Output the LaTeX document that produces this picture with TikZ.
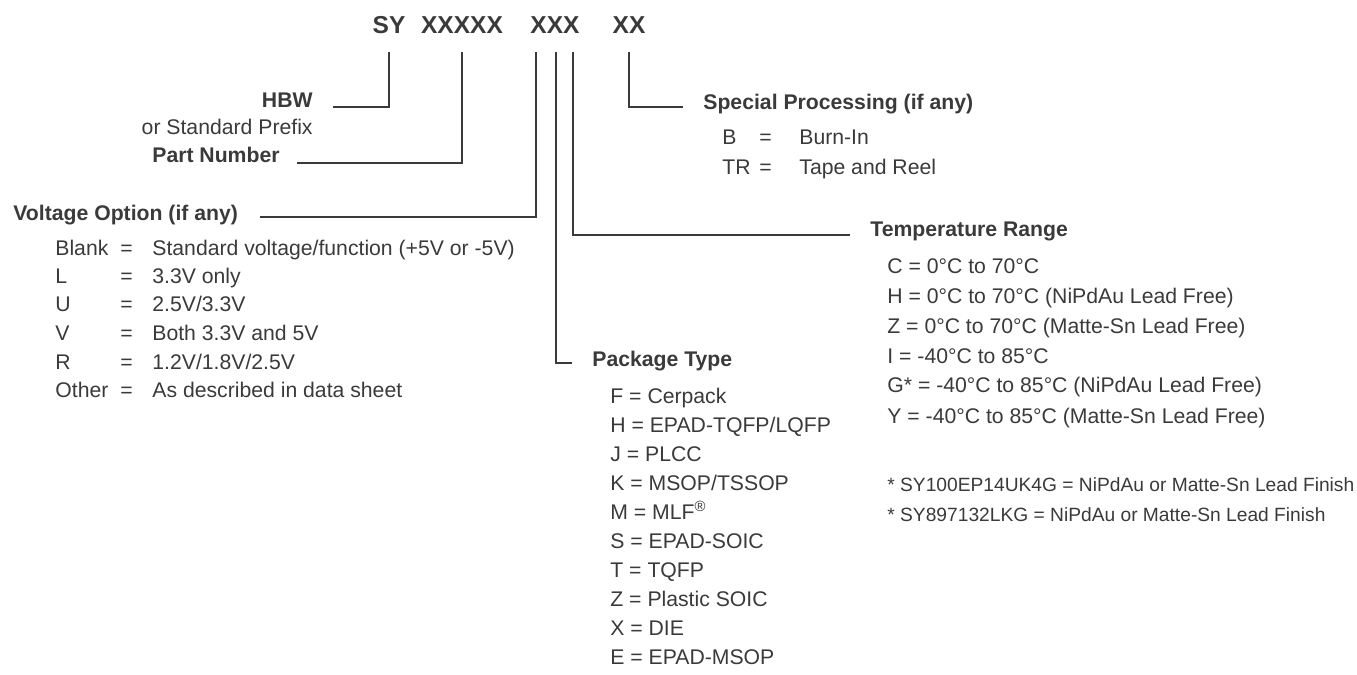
\documentclass[tikz,border=0pt]{standalone}
\usepackage{fontspec}
\setmainfont{Liberation Sans}
\definecolor{ink}{HTML}{3A3A3A}
\tikzset{
  txt/.style={inner sep=0pt, text=ink, anchor=base west, font=\fontsize{10.6}{12}\selectfont},
  hdr/.style={txt, font=\fontsize{10.6}{12}\selectfont\bfseries},
  note/.style={txt, font=\fontsize{9.6}{11}\selectfont},
  ttl/.style={inner sep=0pt, text=ink, anchor=base, font=\fontsize{12.25}{14}\selectfont\bfseries},
  lead/.style={draw=ink, line width=1pt},
}
\begin{document}
\begin{tikzpicture}[x=0.5pt,y=-0.5pt]
\useasboundingbox (0,0) rectangle (1357,675);
% title
\node[ttl] (sy) at (389,33) {SY};
\node[ttl] (x5) at (462,33) {XXXXX};
\node[ttl] (x3) at (555,33) {XXX};
\node[ttl] (x2) at (629,33) {XX};
\coordinate (tSY) at (389,52);
\coordinate (tP) at (462,52);
\coordinate (tV) at (536,52);
\coordinate (tK) at (556,52);
\coordinate (tT) at (573,52);
\coordinate (tS) at (629,52);
% left labels
\node[txt, anchor=base east, font=\fontsize{10.6}{12}\selectfont\bfseries] (hbw) at (313,107.5) {HBW};
\node[txt, anchor=base east] (std) at (313,134.5) {or Standard Prefix};
\node[txt, anchor=base east, font=\fontsize{10.6}{12}\selectfont\bfseries] (pn) at (280,162.5) {Part Number};
\coordinate (hbwL) at (333,107);
\coordinate (pnL) at (297,163);
\draw[lead] (hbwL) -| (tSY);
\draw[lead] (pnL) -| (tP);
% voltage
\node[hdr] (vo) at (13,220.5) {Voltage Option (if any)};
\coordinate (voL) at (260,217);
\draw[lead] (voL) -| (tV);
\foreach \k/\v/\y [count=\i] in {Blank/Standard voltage\slash function (+5V or -5V)/255.5, L/3.3V only/283, U/2.5V\slash 3.3V/311, V/Both 3.3V and 5V/340, R/1.2V\slash 1.8V\slash 2.5V/369, Other/As described in data sheet/397.5}{
  \node[txt] (vk\i) at (55,\y) {\k};
  \node[txt] (ve\i) at (120,\y) {=};
  \node[txt] (vv\i) at (152,\y) {\v};
}
% special processing
\node[hdr] (sp) at (703,109.5) {Special Processing (if any)};
\coordinate (spL) at (683,107);
\draw[lead] (spL) -| (tS);
\node[txt] (spk1) at (722,144.5) {B};
\node[txt] (spe1) at (759,144.5) {=};
\node[txt] (spv1) at (799,144.5) {Burn-In};
\node[txt] (spk2) at (722,174.5) {TR};
\node[txt] (spe2) at (759,174.5) {=};
\node[txt] (spv2) at (799,174.5) {Tape and Reel};
% temperature
\node[hdr] (tr) at (870,236.5) {Temperature Range};
\coordinate (trL) at (850,235);
\draw[lead] (trL) -| (tT);
\foreach \t/\y [count=\i] in {C = 0°C to 70°C/273.5, H = 0°C to 70°C (NiPdAu Lead Free)/303.5, Z = 0°C to 70°C (Matte-Sn Lead Free)/333.5, I = -40°C to 85°C/363.5, G* = -40°C to 85°C (NiPdAu Lead Free)/392.5, Y = -40°C to 85°C (Matte-Sn Lead Free)/423}{
  \node[txt] (tr\i) at (887,\y) {\t};
}
\node[note] (fn1) at (887,491.5) {* SY100EP14UK4G = NiPdAu or Matte-Sn Lead Finish};
\node[note] (fn2) at (887,521.5) {* SY897132LKG = NiPdAu or Matte-Sn Lead Finish};
% package
\node[hdr] (pt) at (592,366.5) {Package Type};
\coordinate (ptL) at (572,363);
\draw[lead] (ptL) -| (tK);
\foreach \t/\y [count=\i] in {F = Cerpack/403.5, H = EPAD-TQFP\slash LQFP/432.5, J = PLCC/461.5, K = MSOP\slash TSSOP/490.5, M = MLF\textsuperscript{®}/519.5, S = EPAD-SOIC/548.5, T = TQFP/577.5, Z = Plastic SOIC/606.5, X = DIE/635.5, E = EPAD-MSOP/664.5}{
  \node[txt] (pk\i) at (610,\y) {\t};
}
\end{tikzpicture}
\end{document}
